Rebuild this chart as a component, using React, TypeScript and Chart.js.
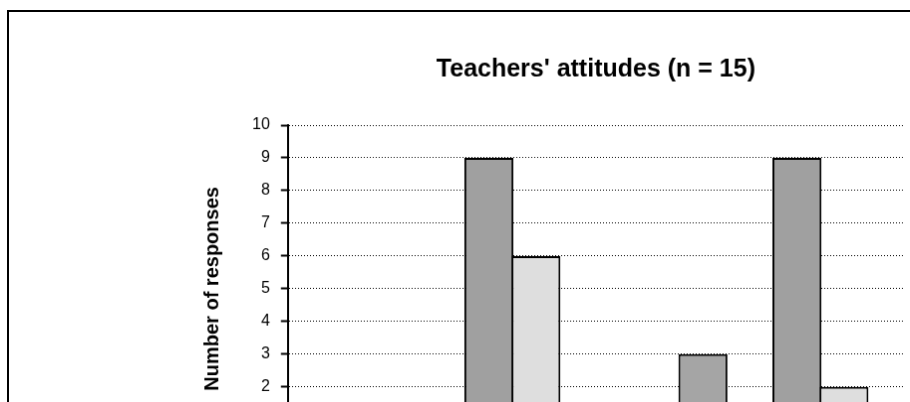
import React, { useEffect, useRef } from "react";
import { Chart, registerables } from "chart.js";

Chart.register(...registerables);

const chartTitle = "Teachers' attitudes (n = 15)";
const yAxisTitle = "Number of responses";
const categories = ["Before", "After"];
const seriesNames = ["Strongly disagree", "Disagree", "Undecided", "Agree", "Strongly agree"];
const seriesColors = ["#FFFFFF", "#A5A5A5", "#707070", "#A0A0A0", "#DEDEDE"];
const strongDisagree = [0, 0];
const disagree = [0, 3];
const undecided = [0, 0];
const agree = [9, 9];
const strongAgree = [6, 2];
const seriesValues = [strongDisagree, disagree, undecided, agree, strongAgree];
const yMin = 0;
const yMax = 10;
const yStep = 1;

const FONT = "'Liberation Sans', Arial, Helvetica, sans-serif";

export default function App() {
  const ref = useRef<HTMLCanvasElement | null>(null);

  useEffect(() => {
    if (!ref.current) return;
    const chart = new Chart(ref.current, {
      type: "bar",
      data: {
        labels: categories,
        datasets: seriesNames.map((name, i) => ({
          label: name,
          data: seriesValues[i],
          backgroundColor: seriesColors[i],
          borderColor: "#000000",
          borderWidth: 2,
          borderSkipped: "bottom" as const,
          categoryPercentage: 0.763,
          barPercentage: 1.043,
        })),
      },
      options: {
        responsive: false,
        animation: false,
        devicePixelRatio: 1,
        layout: { padding: { left: 188, right: 270, top: 0, bottom: 44 } },
        plugins: {
          legend: { display: false },
          tooltip: { enabled: false },
          title: {
            display: true,
            fullSize: false,
            text: chartTitle,
            color: "#000000",
            font: { family: FONT, size: 25, weight: "bold" },
            padding: { top: 43, bottom: 41 },
          },
        },
        scales: {
          x: {
            grid: { display: true, drawOnChartArea: false, color: "#000", tickLength: 7 },
            border: { display: true, color: "#000", width: 2 },
            ticks: { color: "#000", font: { family: FONT, size: 16 } },
          },
          y: {
            min: yMin,
            max: yMax,
            ticks: {
              stepSize: yStep,
              color: "#000",
              padding: 11,
              font: { family: FONT, size: 16 },
            },
            grid: {
              color: "#000000",
              lineWidth: 1,
              tickLength: 7,
              tickColor: "#000000",
              tickWidth: 2,
              tickBorderDash: [],
            },
            border: { display: true, color: "#000", width: 2, dash: [1, 2] },
            title: {
              display: true,
              text: yAxisTitle,
              color: "#000",
              font: { family: FONT, size: 20, weight: "bold" },
              padding: { top: 4, bottom: 17 },
            },
          },
        },
      },
    });
    return () => chart.destroy();
  }, []);

  return (
    <div
      style={{
        position: "absolute",
        left: 0,
        top: 0,
        width: 910,
        height: 402,
        overflow: "hidden",
        background: "#fff",
      }}
    >
      <canvas
        ref={ref}
        width={1168}
        height={520}
        style={{
          position: "absolute",
          left: 7,
          top: 10,
          border: "2px solid #000",
          display: "block",
          width: 1168,
          height: 520,
        }}
      />
    </div>
  );
}
